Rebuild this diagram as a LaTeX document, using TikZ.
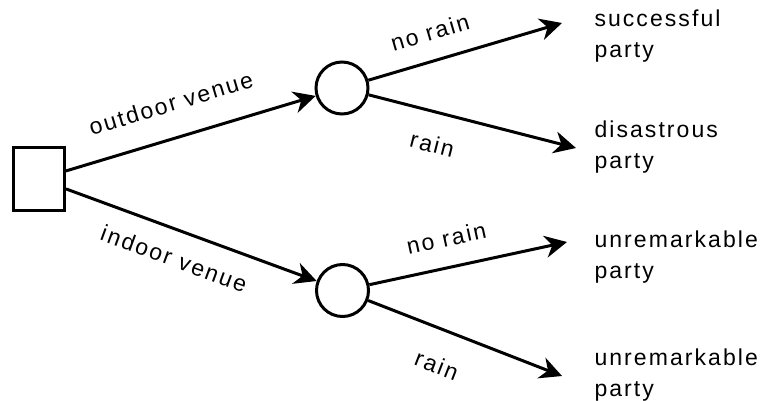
\documentclass[tikz,border=0pt]{standalone}
\usepackage{fontspec}
\setmainfont{Liberation Sans}[LetterSpace=9]
\usetikzlibrary{arrows.meta, positioning}

\begin{document}
\begin{tikzpicture}[
    x=1pt, y=1pt,
    on grid,
    line width=3pt,
    font=\fontsize{23}{31}\selectfont,
    decision/.style={draw, rectangle, minimum width=51pt, minimum height=63pt, inner sep=0pt},
    chance/.style={draw, circle, minimum size=52pt, inner sep=0pt},
    outcome/.style={anchor=west, align=left, inner sep=0pt},
    lab/.style={sloped, anchor=center, inner sep=0pt},
    every edge/.append style={line width=3pt, -{Stealth[length=22pt, width=22pt, inset=7pt]}}
]
   \useasboundingbox (0,0) rectangle (767,400);

   % Decision and chance nodes
   \node[decision] (venue) at (39,221) {};
   \node[chance] (outdoor) [above right=91pt and 303pt of venue] {};
   \node[chance] (indoor) [below right=111.5pt and 303.5pt of venue] {};

   % Arrow ends
   \coordinate (t1) at (562,377);
   \coordinate (t2) at (576,252);
   \coordinate (t3) at (567,158);
   \coordinate (t4) at (562,24);

   % Outcomes
   \node[outcome] (o1) at (593,364) {successful\\party};
   \node[outcome] (o2) at (593,252.6) {disastrous\\party};
   \node[outcome] (o3) at (593,143.4) {unremarkable\\party};
   \node[outcome] (o4) at (593,25) {unremarkable\\party};

   % Branches
   \path
   (venue) edge node[lab, pos=.46, yshift=34.6pt] {outdoor venue} (outdoor)
           edge node[lab, pos=.47, yshift=-28.2pt] {indoor venue} (indoor)
   (outdoor) edge node[lab, pos=.36, yshift=28.8pt] {no rain} (t1)
             edge node[lab, pos=.345, yshift=-32pt] {rain} (t2)
   (indoor) edge node[lab, pos=.42, yshift=29.2pt] {no rain} (t3)
            edge node[lab, pos=.42, yshift=-35.1pt] {rain} (t4);
\end{tikzpicture}
\end{document}
